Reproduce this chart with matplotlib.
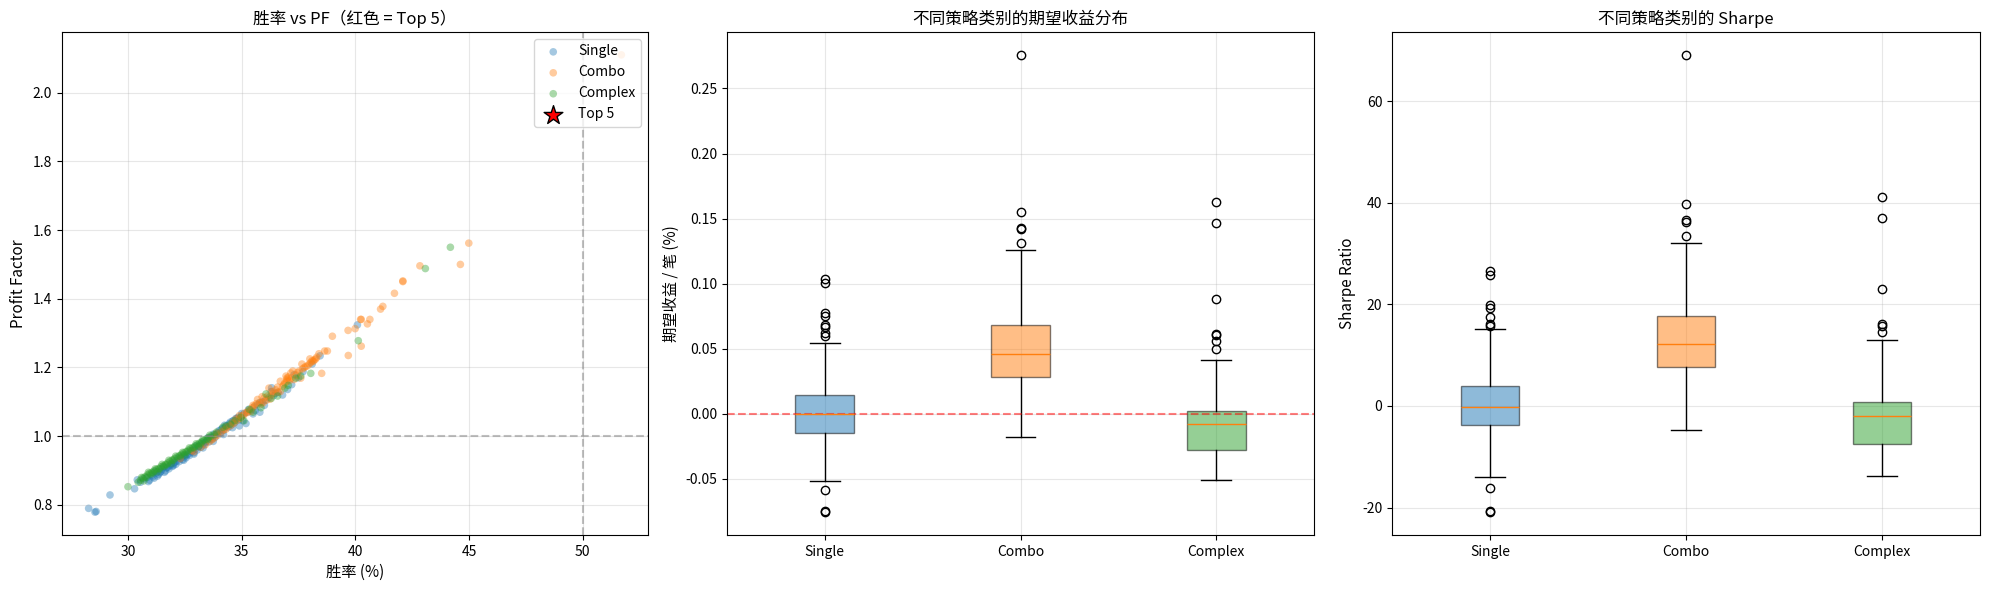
import matplotlib
matplotlib.use("Agg")
import matplotlib.pyplot as plt

plt.rcParams['font.family'] = ['Noto Sans CJK SC', 'DejaVu Sans']
plt.rcParams['axes.unicode_minus'] = False

# ---- 胜率 vs PF 散点数据 ----
single_win = [28.27, 28.55, 28.60, 29.21, 30.29, 30.41, 30.55, 30.70, 30.85, 30.95,
              31.05, 31.15, 31.25, 31.35, 31.45, 31.50, 31.60, 31.70, 31.80, 31.85,
              31.95, 32.00, 32.10, 32.15, 32.25, 32.30, 32.40, 32.50, 32.55, 32.65,
              32.70, 32.80, 32.90, 32.95, 33.05, 33.10, 33.20, 33.30, 33.35, 33.45,
              33.55, 33.60, 33.70, 33.80, 33.85, 33.95, 34.05, 34.10, 34.20, 34.30,
              34.40, 34.45, 34.55, 34.60, 34.70, 34.80, 34.90, 35.00, 35.10, 35.19,
              35.25, 35.40, 35.55, 35.70, 35.90, 36.05, 36.32, 36.40, 36.60, 37.02,
              37.31, 37.70, 38.45, 40.09,
              31.10, 31.40, 31.75, 32.05, 32.35, 32.60, 32.85, 33.15, 33.40, 33.65,
              33.90, 34.15, 34.35, 34.65, 34.85,
              31.20, 31.55, 31.90, 32.20, 32.45, 32.75, 33.00, 33.25, 33.50, 33.75,
              34.00, 34.25, 34.50, 34.75, 35.00, 35.30, 35.60, 35.80, 36.20, 36.50,
              30.90, 31.30, 31.65, 32.00, 32.45, 32.90, 33.30, 33.75, 34.20, 34.60,
              35.05, 35.50, 36.00, 36.80, 37.50, 38.10, 37.20, 36.30, 35.80, 34.90]
single_pf = [0.790, 0.779, 0.781, 0.829, 0.847, 0.873, 0.866, 0.876, 0.880, 0.872,
             0.886, 0.878, 0.893, 0.889, 0.897, 0.904, 0.895, 0.908, 0.905, 0.915,
             0.912, 0.921, 0.918, 0.928, 0.926, 0.935, 0.932, 0.941, 0.937, 0.948,
             0.944, 0.955, 0.952, 0.962, 0.960, 0.970, 0.968, 0.978, 0.975, 0.985,
             0.983, 0.993, 0.992, 1.002, 0.998, 1.010, 1.008, 1.020, 1.017, 1.028,
             1.025, 1.036, 1.033, 1.044, 1.040, 1.052, 1.048, 1.060, 1.065, 1.037,
             1.070, 1.076, 1.085, 1.092, 1.100, 1.105, 1.141, 1.118, 1.128, 1.136,
             1.179, 1.188, 1.234, 1.324,
             0.882, 0.894, 0.910, 0.924, 0.938, 0.946, 0.958, 0.972, 0.982, 0.996,
             1.006, 1.022, 1.030, 1.046, 1.055,
             0.898, 0.910, 0.918, 0.936, 0.945, 0.957, 0.972, 0.982, 0.995, 1.006,
             1.016, 1.032, 1.041, 1.052, 1.066, 1.078, 1.075, 1.098, 1.112, 1.125,
             0.868, 0.884, 0.899, 0.915, 0.930, 0.948, 0.966, 0.985, 1.005, 1.025,
             1.045, 1.065, 1.090, 1.120, 1.170, 1.210, 1.150, 1.130, 1.070, 1.030]

combo_win = [33.40, 33.60, 33.80, 33.95, 34.10, 34.30, 34.50, 34.65, 34.80, 34.95,
             35.10, 35.26, 35.40, 35.56, 35.70, 35.85, 35.95, 36.14, 36.25, 36.40,
             36.58, 36.70, 36.85, 36.99, 36.99, 37.05, 37.16, 37.30, 37.53, 37.60,
             37.68, 37.82, 37.97, 38.05, 38.15, 38.26, 38.30, 38.52, 38.65, 38.77,
             38.99, 39.68, 39.69, 39.99, 40.23, 40.26, 40.26, 40.53, 40.64, 41.11,
             41.21, 41.72, 42.09, 42.09, 42.84, 44.62, 44.99, 51.70,
             35.00, 35.30, 35.80, 36.00, 36.30, 36.50, 36.90, 37.10, 37.40, 37.90,
             38.10, 38.20, 34.20, 34.60, 33.70, 32.80, 32.30, 36.95, 37.00,
             33.90, 34.35, 34.75, 35.15, 35.45, 35.65, 36.10, 36.35, 36.60, 36.80,
             37.20, 37.45, 37.75, 38.00, 38.40, 36.20, 35.90, 37.25, 33.20, 32.90,
             34.90, 35.50, 36.70, 37.65]
combo_pf = [0.975, 0.985, 0.995, 1.003, 1.012, 1.020, 1.030, 1.037, 1.046, 1.052,
            1.062, 1.069, 1.072, 1.088, 1.107, 1.093, 1.098, 1.117, 1.108, 1.125,
            1.143, 1.130, 1.150, 1.169, 1.160, 1.172, 1.184, 1.165, 1.190, 1.169,
            1.196, 1.203, 1.210, 1.215, 1.218, 1.225, 1.230, 1.183, 1.248, 1.248,
            1.291, 1.308, 1.235, 1.313, 1.340, 1.340, 1.262, 1.327, 1.340, 1.370,
            1.378, 1.416, 1.452, 1.450, 1.496, 1.500, 1.562, 2.110,
            1.058, 1.075, 1.098, 1.112, 1.120, 1.135, 1.155, 1.162, 1.178, 1.205,
            1.220, 1.222, 1.018, 1.040, 0.990, 0.958, 0.935, 1.175, 1.165,
            1.008, 1.027, 1.050, 1.068, 1.082, 1.095, 1.105, 1.130, 1.128, 1.145,
            1.170, 1.185, 1.200, 1.225, 1.240, 1.140, 1.115, 1.190, 0.968, 0.955,
            1.060, 1.090, 1.160, 1.210]

complex_win = [30.00, 30.45, 30.55, 30.65, 30.75, 30.85, 30.95, 31.05, 31.15, 31.25,
               31.35, 31.45, 31.55, 31.65, 31.75, 31.85, 31.95, 32.05, 32.15, 32.25,
               32.35, 32.45, 32.55, 32.65, 32.75, 32.85, 32.95, 33.05, 33.15, 33.25,
               33.35, 33.45, 33.55, 33.65, 33.80, 34.17, 34.50, 34.97, 35.10, 35.34,
               35.85, 36.07, 36.58, 37.05, 37.38, 38.04, 40.13, 43.08, 44.18,
               30.80, 31.10, 31.40, 31.70, 32.00, 32.30, 32.60, 32.90, 33.20, 33.50,
               31.00, 31.60,
               30.60, 30.90, 31.20, 31.50, 31.80, 32.10, 32.40, 32.70, 33.00, 33.30,
               33.60, 30.70, 31.30, 31.90, 32.50, 33.10, 33.90, 34.30, 34.70, 35.50,
               36.30, 36.90, 37.60]
complex_pf = [0.853, 0.866, 0.872, 0.878, 0.882, 0.887, 0.892, 0.895, 0.899, 0.903,
              0.906, 0.911, 0.914, 0.918, 0.922, 0.927, 0.931, 0.935, 0.939, 0.943,
              0.947, 0.951, 0.955, 0.959, 0.963, 0.967, 0.971, 0.975, 0.980, 0.984,
              0.988, 0.992, 0.996, 1.000, 1.005, 1.026, 1.035, 1.055, 1.045, 1.078,
              1.083, 1.123, 1.117, 1.148, 1.169, 1.183, 1.278, 1.488, 1.550,
              0.880, 0.893, 0.905, 0.917, 0.930, 0.942, 0.954, 0.966, 0.978, 0.990,
              0.889, 0.912,
              0.880, 0.895, 0.905, 0.918, 0.930, 0.942, 0.953, 0.966, 0.978, 0.990,
              1.003, 0.870, 0.897, 0.921, 0.945, 0.970, 1.012, 1.030, 1.045, 1.070,
              1.110, 1.140, 1.175]

top5_win = []
top5_pf = []

# ---- 箱线图统计值 ----
categories = ['Single', 'Combo', 'Complex']
colors = ['#1f77b4', '#ff7f0e', '#2ca02c']

exp_med = [0.0000, 0.0463, -0.0075]
exp_q1 = [-0.0145, 0.0286, -0.0280]
exp_q3 = [0.0144, 0.0682, 0.0020]
exp_lo = [-0.0515, -0.0177, -0.0506]
exp_hi = [0.0547, 0.1261, 0.0414]
exp_fliers = [
    [0.1038, 0.1003, 0.0778, 0.0755, 0.0680, 0.0668, 0.0622, 0.0596, -0.0584, -0.0749, -0.0755],
    [0.2758, 0.1553, 0.1428, 0.1417, 0.1313],
    [0.1628, 0.1469, 0.0885, 0.0613, 0.0605, 0.0558, 0.0495],
]

sharpe_med = [-0.14, 12.2, -1.9]
sharpe_q1 = [-3.7, 7.7, -7.5]
sharpe_q3 = [3.94, 17.7, 0.8]
sharpe_lo = [-13.9, -4.7, -13.8]
sharpe_hi = [15.2, 32.1, 13.0]
sharpe_fliers = [
    [26.5, 25.7, 19.9, 19.3, 17.6, 16.2, 15.8, -16.2, -20.7, -20.9],
    [69.1, 39.8, 36.5, 36.2, 33.5],
    [41.2, 37.0, 23.1, 16.2, 15.7, 14.6],
]


def make_stats(med, q1, q3, lo, hi, fliers):
    stats = []
    for i, name in enumerate(categories):
        stats.append({'label': name, 'med': med[i], 'q1': q1[i], 'q3': q3[i],
                      'whislo': lo[i], 'whishi': hi[i], 'fliers': fliers[i]})
    return stats


def draw_box(ax, stats):
    bp = ax.bxp(stats, widths=0.3, patch_artist=True)
    for patch, c in zip(bp['boxes'], colors):
        patch.set_facecolor(c)
        patch.set_alpha(0.5)
    return bp


W, H = 1989, 590
fig = plt.figure(figsize=(W / 100, H / 100), dpi=100)
bottom = (H - 535) / H
height = 503 / H
ax1 = fig.add_axes([62 / W, bottom, 586 / W, height])
ax2 = fig.add_axes([727 / W, bottom, 587 / W, height])
ax3 = fig.add_axes([1392 / W, bottom, 588 / W, height])

# 图1: 胜率 vs PF
ax1.scatter(single_win, single_pf, s=30, alpha=0.4, c=colors[0], edgecolors='none', label='Single')
ax1.scatter(combo_win, combo_pf, s=30, alpha=0.4, c=colors[1], edgecolors='none', label='Combo')
ax1.scatter(complex_win, complex_pf, s=30, alpha=0.4, c=colors[2], edgecolors='none', label='Complex')
ax1.scatter(top5_win, top5_pf, s=200, c='red', marker='*', edgecolors='black', label='Top 5')
ax1.axhline(y=1.0, color='gray', linestyle='--', alpha=0.5)
ax1.axvline(x=50, color='gray', linestyle='--', alpha=0.5)
ax1.set_xlabel('胜率 (%)', fontsize=11)
ax1.set_ylabel('Profit Factor', fontsize=11)
ax1.set_title('胜率 vs PF（红色 = Top 5）', fontsize=12)
ax1.legend(loc='upper right')
ax1.grid(True, alpha=0.3)

# 图2: 期望收益
draw_box(ax2, make_stats(exp_med, exp_q1, exp_q3, exp_lo, exp_hi, exp_fliers))
ax2.axhline(y=0, color='red', linestyle='--', alpha=0.5)
ax2.set_ylabel('期望收益 / 笔 (%)', fontsize=11)
ax2.set_title('不同策略类别的期望收益分布', fontsize=12)
ax2.grid(True, alpha=0.3)

# 图3: Sharpe
draw_box(ax3, make_stats(sharpe_med, sharpe_q1, sharpe_q3, sharpe_lo, sharpe_hi, sharpe_fliers))
ax3.set_ylabel('Sharpe Ratio', fontsize=11)
ax3.set_title('不同策略类别的 Sharpe', fontsize=12)
ax3.grid(True, alpha=0.3)

fig.savefig('out.png', dpi=100)
